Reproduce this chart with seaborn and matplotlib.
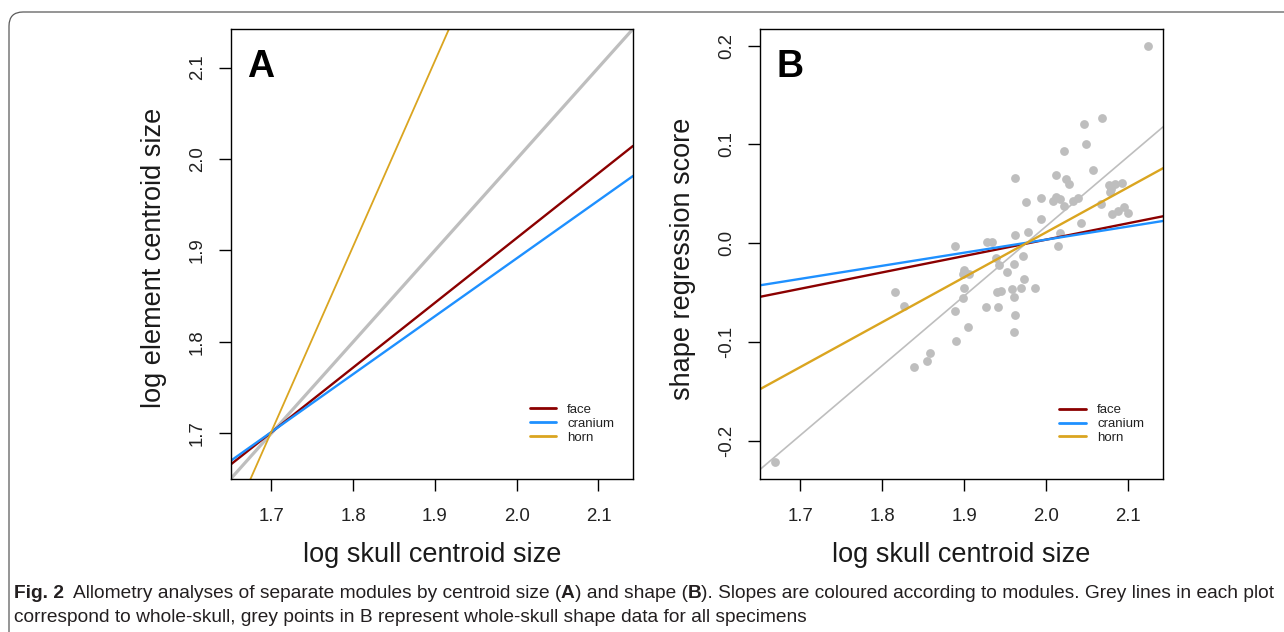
import numpy as np
import pandas as pd
import matplotlib
matplotlib.use("Agg")
import matplotlib.pyplot as plt
import seaborn as sns
from matplotlib.patches import FancyBboxPatch
from matplotlib.transforms import IdentityTransform

# ---------------- data ----------------
modules = ["face", "cranium", "horn"]

# Panel A: regression lines (log element centroid size ~ log skull centroid size)
A_slopes = [0.708, 0.633, 2.027]
A_intercepts = [0.4976, 0.6254, -1.7442]
A_skull_slope = 1.0
A_skull_intercept = 0.0

# Panel B: regression lines (shape regression score ~ log skull centroid size)
B_slopes = [0.166, 0.1326, 0.4554]
B_intercepts = [-0.3284, -0.2616, -0.8997]
B_skull_slope = 0.7061
B_skull_intercept = -1.3949

# Panel B: whole-skull specimens
B_skull_size = [2.124, 2.068, 2.046, 2.048, 2.022, 2.057, 1.962, 2.012, 2.024, 2.027,
                1.975, 1.993, 2.008, 2.012, 2.017, 2.032, 2.038, 2.021, 2.067, 2.076,
                2.079, 2.084, 2.092, 2.077, 2.080, 2.087, 2.095, 2.100, 1.993, 2.042,
                1.962, 2.017, 2.014, 1.977, 1.889, 1.927, 1.934, 1.971, 1.938, 1.942,
                1.960, 1.952, 1.900, 1.898, 1.906, 1.973, 1.986, 1.969, 1.940, 1.945,
                1.958, 1.961, 1.900, 1.898, 1.815, 1.826, 1.926, 1.941, 1.888, 1.904,
                1.962, 1.961, 1.890, 1.858, 1.855, 1.838, 1.669]
B_shape_score = [0.200, 0.127, 0.121, 0.100, 0.093, 0.074, 0.066, 0.069, 0.065, 0.060,
                 0.042, 0.046, 0.043, 0.047, 0.045, 0.043, 0.046, 0.038, 0.040, 0.059,
                 0.055, 0.060, 0.061, 0.052, 0.030, 0.033, 0.037, 0.031, 0.024, 0.020,
                 0.008, 0.010, -0.003, 0.011, -0.003, 0.001, 0.001, -0.013, -0.015, -0.022,
                 -0.021, -0.029, -0.027, -0.031, -0.031, -0.036, -0.045, -0.045, -0.049, -0.048,
                 -0.046, -0.055, -0.045, -0.056, -0.049, -0.064, -0.065, -0.065, -0.069, -0.085,
                 -0.073, -0.090, -0.099, -0.111, -0.119, -0.125, -0.222]

x_ticks = [1.7, 1.8, 1.9, 2.0, 2.1]
x_tick_labels = ["1.7", "1.8", "1.9", "2.0", "2.1"]
A_y_ticks = [1.7, 1.8, 1.9, 2.0, 2.1]
A_y_tick_labels = ["1.7", "1.8", "1.9", "2.0", "2.1"]
B_y_ticks = [-0.2, -0.1, 0.0, 0.1, 0.2]
B_y_tick_labels = ["-0.2", "-0.1", "0.0", "0.1", "0.2"]

caption_line1 = [("Fig. 2", "bold"), (None, None),
                 ("Allometry analyses of separate modules by centroid size (", "normal"),
                 ("A", "bold"), (") and shape (", "normal"), ("B", "bold"),
                 ("). Slopes are coloured according to modules. Grey lines in each plot", "normal")]
caption_line2 = [("correspond to whole-skull, grey points in B represent whole-skull shape data for all specimens", "normal")]

# ---------------- style ----------------
palette = {"face": "#8B0000", "cranium": "#1E90FF", "horn": "#DAA520"}
grey = "#BEBEBE"

sns.set_theme(style="white")
plt.rcParams["font.family"] = ["Liberation Sans", "DejaVu Sans"]
plt.rcParams.update({
    "axes.edgecolor": "black", "axes.linewidth": 1.0,
    "xtick.direction": "out", "ytick.direction": "out",
    "xtick.bottom": True, "ytick.left": True,
    "xtick.major.size": 8.5, "ytick.major.size": 8.5,
    "xtick.major.width": 1.0, "ytick.major.width": 1.0,
    "xtick.color": "black", "ytick.color": "black",
    "xtick.labelcolor": "#222222", "ytick.labelcolor": "#222222",
})

W, H = 1284, 632
fig = plt.figure(figsize=(W / 100, H / 100), dpi=100)
fig.patch.set_facecolor("white")

axA = fig.add_axes([231 / W, 1 - 478.5 / H, 402 / W, 449.6 / H])
axB = fig.add_axes([760 / W, 1 - 479 / H, 403 / W, 450 / H])

# R-style 4% extended limits from the specimen data
xr = max(B_skull_size) - min(B_skull_size)
xlim = (min(B_skull_size) - 0.04 * xr, max(B_skull_size) + 0.04 * xr)
yr = max(B_shape_score) - min(B_shape_score)
B_ylim = (min(B_shape_score) - 0.04 * yr, max(B_shape_score) + 0.04 * yr)


def line_df(slope, intercept):
    xs = np.array(xlim)
    return pd.DataFrame({"x": xs, "y": intercept + slope * xs})


# ---- Panel A ----
sns.lineplot(data=line_df(A_skull_slope, A_skull_intercept), x="x", y="y",
             color=grey, linewidth=2.3, ax=axA, legend=False)
for m, b, a in zip(modules, A_slopes, A_intercepts):
    sns.lineplot(data=line_df(b, a), x="x", y="y", color=palette[m],
                 linewidth=1.3 if m == "horn" else 1.7, label=m, ax=axA)

# ---- Panel B ----
sns.scatterplot(x=B_skull_size, y=B_shape_score, color=grey, s=40, linewidth=0,
                ax=axB, legend=False, zorder=1)
sns.lineplot(data=line_df(B_skull_slope, B_skull_intercept), x="x", y="y",
             color=grey, linewidth=1.2, ax=axB, legend=False)
for m, b, a in zip(modules, B_slopes, B_intercepts):
    sns.lineplot(data=line_df(b, a), x="x", y="y", color=palette[m],
                 linewidth=1.7, label=m, ax=axB)

for ax, ylim, yt, ytl, ylab, letter in [
        (axA, xlim, A_y_ticks, A_y_tick_labels, "log element centroid size", "A"),
        (axB, B_ylim, B_y_ticks, B_y_tick_labels, "shape regression score", "B")]:
    ax.set_xlim(xlim)
    ax.set_ylim(ylim)
    ax.set_xticks(x_ticks)
    ax.set_xticklabels(x_tick_labels, fontsize=13.4)
    ax.set_yticks(yt)
    ax.set_yticklabels(ytl, fontsize=13.4, rotation=90, va="center")
    ax.tick_params(axis="x", pad=12.5)
    ax.tick_params(axis="y", pad=9.5)
    for s in ax.spines.values():
        s.set_visible(True)
        s.set_color("black")
        s.set_linewidth(1.0)
    ax.set_xlabel("log skull centroid size", fontsize=19.5, color="#1a1a1a")
    ax.set_ylabel(ylab, fontsize=19.5, color="#1a1a1a")
    ax.xaxis.set_label_coords(0.5, -0.17)
    ax.xaxis.label.set_va("center")
    ax.yaxis.set_label_coords(-0.1915, 0.49)
    ax.yaxis.label.set_va("center")
    ax.text(0.04, 0.893, letter, transform=ax.transAxes, fontsize=27,
            fontweight="bold", va="baseline", ha="left", color="black")
    leg = ax.legend(loc="center left", bbox_to_anchor=(0.743, 0.122), frameon=False,
                    fontsize=9.5, handlelength=2.0, handletextpad=0.85,
                    labelspacing=0.12, borderpad=0, borderaxespad=0)
    for t in leg.get_texts():
        t.set_color("#222222")
    for l in leg.get_lines():
        l.set_linewidth(2.0)

# ---------------- frame around figure ----------------
frame = FancyBboxPatch((9, -40), 1330, H - 12 + 40,
                       boxstyle="round,pad=0,rounding_size=14",
                       transform=IdentityTransform(), fill=False,
                       edgecolor="#5a5a5a", linewidth=0.9)
fig.add_artist(frame)

# ---------------- caption ----------------
renderer = fig.canvas.get_renderer()


def text_width(s, weight, size):
    t = fig.text(0, 0, s, fontsize=size, fontweight=weight, transform=IdentityTransform())
    w = t.get_window_extent(renderer).width
    t.remove()
    return w


def space_width(size):
    return text_width("a a", "normal", size) - text_width("aa", "normal", size)


def line_width(segs, size):
    total = 0.0
    for s, wgt in segs:
        if s is None:
            total += 1.6 * space_width(size)
        else:
            total += text_width(s, wgt, size)
    return total


size = 10.0
for _ in range(2):
    size = size * 1259 / line_width(caption_line1, size)


def draw_line(segs, x0, ybase, size):
    x = x0
    for s, wgt in segs:
        if s is None:
            x += 1.6 * space_width(size)
            continue
        fig.text(x, ybase, s, fontsize=size, fontweight=wgt, color="#231f20",
                 transform=IdentityTransform(), va="baseline", ha="left")
        x += text_width(s, wgt, size)


draw_line(caption_line1, 14, H - 598, size)
draw_line(caption_line2, 14, H - 622, size)

fig.savefig("out.png", dpi=100, facecolor="white")
